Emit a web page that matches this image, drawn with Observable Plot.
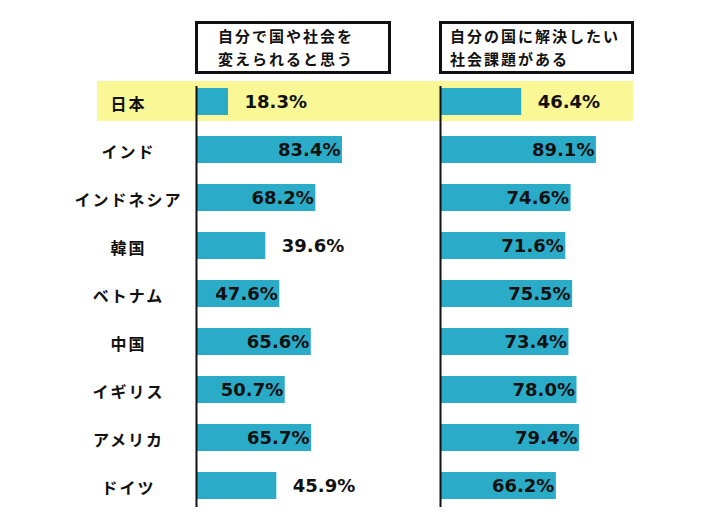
<!DOCTYPE html>
<html>
<head>
<meta charset="utf-8">
<script src="https://cdn.jsdelivr.net/npm/d3@7"></script>
<script src="https://cdn.jsdelivr.net/npm/@observablehq/plot@0.6"></script>
<style>
  body { margin: 0; background: #fff; font-family: "Noto Sans CJK JP", sans-serif; }
  #wrap { position: relative; width: 720px; height: 518px; overflow: hidden; }
  .hdr { position: absolute; top: 21px; height: 53px; box-sizing: border-box; border: 3px solid #111;
         font-weight: 700; font-size: 15px; letter-spacing: 2px; line-height: 23px; color: #111;
         background: #fff; white-space: nowrap; }
  #h0 { left: 195px; width: 196px; padding-left: 20px; }
  #h1 { left: 439px; width: 195px; padding-left: 8px; }
  #chart { position: absolute; top: 80px; left: 0; }
</style>
</head>
<body>
<div id="wrap">
  <div class="hdr" id="h0"></div>
  <div class="hdr" id="h1"></div>
  <div id="chart"></div>
</div>
<script>
// ---- data ----
const countries = ["日本", "インド", "インドネシア", "韓国", "ベトナム", "中国", "イギリス", "アメリカ", "ドイツ"];
const panels = ["自分で国や社会を変えられると思う", "自分の国に解決したい社会課題がある"];
const headerLines = [["自分で国や社会を", "変えられると思う"], ["自分の国に解決したい", "社会課題がある"]];
const canChangeSociety = [18.3, 83.4, 68.2, 39.6, 47.6, 65.6, 50.7, 65.7, 45.9];
const haveSocialIssue = [46.4, 89.1, 74.6, 71.6, 75.5, 73.4, 78.0, 79.4, 66.2];
const highlightCountry = "日本";

// ---- build table ----
const rows = [];
countries.forEach((c, i) => {
  rows.push({country: c, panel: panels[0], value: canChangeSociety[i]});
  rows.push({country: c, panel: panels[1], value: haveSocialIssue[i]});
});
const insideMin = 47;
const inside = rows.filter(d => d.value >= insideMin);
const outside = rows.filter(d => d.value < insideMin);
const highlight = [{country: highlightCountry, panel: panels[0]}];

headerLines.forEach((lines, i) => {
  document.getElementById("h" + i).innerHTML = lines.join("<br>");
});

const barColor = "#2aacc9";
const yellow = "#faf796";
const ink = "#111";
const pctFont = "'DejaVu Sans', sans-serif";

const chart = Plot.plot({
  width: 720,
  height: 438,
  marginTop: 6,
  marginBottom: 11,
  marginLeft: 196,
  marginRight: 105,
  style: {fontFamily: "'Noto Sans CJK JP', sans-serif", color: ink, background: "transparent", overflow: "visible"},
  fx: {domain: panels, paddingInner: 0.283, paddingOuter: 0, axis: null, label: null},
  x: {domain: [0, 100], axis: null},
  y: {domain: countries, paddingInner: 0.44, paddingOuter: 0.104, align: 0.2, label: null},
  marks: [
    Plot.cell(highlight, {y: "country", fx: "panel", fill: yellow,
      insetLeft: -99, insetRight: -262, insetTop: -7, insetBottom: -6}),
    Plot.barX(rows, {x: "value", y: "country", fx: "panel", fill: barColor}),
    Plot.text(inside, {x: "value", y: "country", fx: "panel", text: d => d.value.toFixed(1) + "%",
      textAnchor: "end", dx: -2, fontFamily: pctFont, fontWeight: "bold", fontSize: 18, fill: ink}),
    Plot.text(outside, {x: "value", y: "country", fx: "panel", text: d => d.value.toFixed(1) + "%",
      textAnchor: "start", dx: 16, fontFamily: pctFont, fontWeight: "bold", fontSize: 18, fill: ink}),
    Plot.axisY({tickSize: 0, tickPadding: 68, textAnchor: "middle", fontSize: 16, fontWeight: "bold",
      dy: 3, label: null, fill: ink}),
    Plot.ruleX([0], {stroke: ink, strokeWidth: 2})
  ]
});
chart.querySelectorAll('[aria-label="y-axis tick label"] text').forEach(t => t.style.letterSpacing = "2px");
document.getElementById("chart").appendChild(chart);
</script>
</body>
</html>
